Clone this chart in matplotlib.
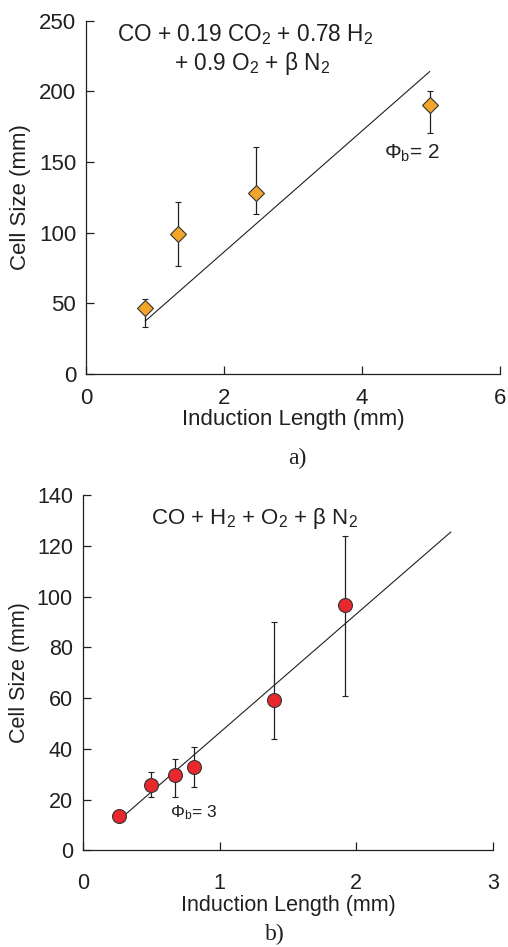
import matplotlib.pyplot as plt

plt.rcParams['font.family'] = ['Liberation Sans', 'DejaVu Sans']
plt.rcParams['mathtext.fontset'] = 'custom'
plt.rcParams['mathtext.rm'] = 'Liberation Sans'
plt.rcParams['mathtext.it'] = 'Liberation Sans:italic'

INK = '#231f20'

# panel a) data
a_x = [0.86, 1.34, 2.46, 4.98]
a_y = [46.5, 98.9, 128.3, 190.4]
a_lo = [33.0, 76.4, 113.4, 170.3]
a_hi = [53.3, 121.5, 160.6, 200.3]
a_fit_x = [0.86, 4.98]
a_fit_y = [37.5, 214.0]

# panel b) data
b_x = [0.267, 0.50, 0.674, 0.81, 1.40, 1.92]
b_y = [13.6, 25.7, 29.6, 32.7, 59.2, 96.6]
b_lo = [13.6, 20.9, 20.9, 25.0, 43.9, 60.7]
b_hi = [13.6, 30.9, 35.8, 40.9, 90.0, 123.9]
b_fit_x = [0.273, 2.69]
b_fit_y = [12.3, 125.4]

a_xticks = [0, 2, 4, 6]
a_yticks = [0, 50, 100, 150, 200, 250]
b_xticks = [0, 1, 2, 3]
b_yticks = [0, 20, 40, 60, 80, 100, 120, 140]


def style_axes(ax, size, xpad, xlab_y, ylab_x):
    for side in ('top', 'right'):
        ax.spines[side].set_visible(False)
    for side in ('left', 'bottom'):
        ax.spines[side].set_linewidth(0.9)
        ax.spines[side].set_color(INK)
    ax.tick_params(direction='in', length=6, width=0.9, labelsize=size,
                   colors=INK)
    ax.tick_params(axis='x', pad=xpad)
    ax.tick_params(axis='y', pad=7)
    ax.set_xlabel('Induction Length (mm)', fontsize=size, color=INK)
    ax.set_ylabel('Cell Size (mm)', fontsize=size, color=INK)
    ax.xaxis.set_label_coords(0.5, xlab_y)
    ax.xaxis.label.set_va('center')
    ax.yaxis.set_label_coords(ylab_x, 0.5)
    ax.yaxis.label.set_va('center')


fig = plt.figure(figsize=(5.08, 9.47), dpi=100)

ax1 = fig.add_axes([0.1693, 0.6051, 0.815, 0.373])
ax1.plot(a_fit_x, a_fit_y, color=INK, lw=0.8)
err_a = [[y - lo for y, lo in zip(a_y, a_lo)], [hi - y for y, hi in zip(a_y, a_hi)]]
ax1.errorbar(a_x, a_y, yerr=err_a, fmt='D', ms=8, mfc='#F2A52B', mec='#333333',
             mew=0.8, ecolor=INK, elinewidth=0.9, capsize=2, capthick=0.9, zorder=3)
ax1.set_xlim(0, 6)
ax1.set_ylim(0, 250)
ax1.set_xticks(a_xticks)
ax1.set_yticks(a_yticks)
style_axes(ax1, 16, 10, -0.13, -0.159)
ax1.text(2.31, 240, 'CO + 0.19 CO$_2$ + 0.78 H$_2$', fontsize=16.3, ha='center',
         va='center', color=INK)
ax1.text(2.41, 220, '+ 0.9 O$_2$ + β N$_2$', fontsize=16.3, ha='center', va='center',
         color=INK)
ax1.text(4.73, 156, 'Φ$_\\mathregular{b}$= 2', fontsize=15, ha='center', va='center',
         color=INK)

ax2 = fig.add_axes([0.1628, 0.1021, 0.808, 0.3752])
ax2.plot(b_fit_x, b_fit_y, color=INK, lw=0.8)
err_b = [[y - lo for y, lo in zip(b_y, b_lo)], [hi - y for y, hi in zip(b_y, b_hi)]]
ax2.errorbar(b_x, b_y, yerr=err_b, fmt='o', ms=10, mfc='#E8282D', mec='#333333',
             mew=0.8, ecolor=INK, elinewidth=0.9, capsize=2, capthick=0.9, zorder=3)
ax2.set_xlim(0, 3)
ax2.set_ylim(0, 140)
ax2.set_xticks(b_xticks)
ax2.set_yticks(b_yticks)
style_axes(ax2, 15.5, 16, -0.154, -0.153)
ax2.text(1.254, 130.8, 'CO + H$_2$ + O$_2$ + β N$_2$', fontsize=16, ha='center',
         va='center', color=INK)
ax2.text(0.81, 14.7, 'Φ$_\\mathregular{b}$= 3', fontsize=12.5, ha='center', va='center',
         color=INK)

fig.text(297 / 508, 1 - 458 / 947, 'a)', fontsize=17, family='Liberation Serif',
         ha='center', va='center', color=INK)
fig.text(275 / 508, 1 - 934 / 947, 'b)', fontsize=17, family='Liberation Serif',
         ha='center', va='center', color=INK)

fig.savefig('out.png', dpi=100)
